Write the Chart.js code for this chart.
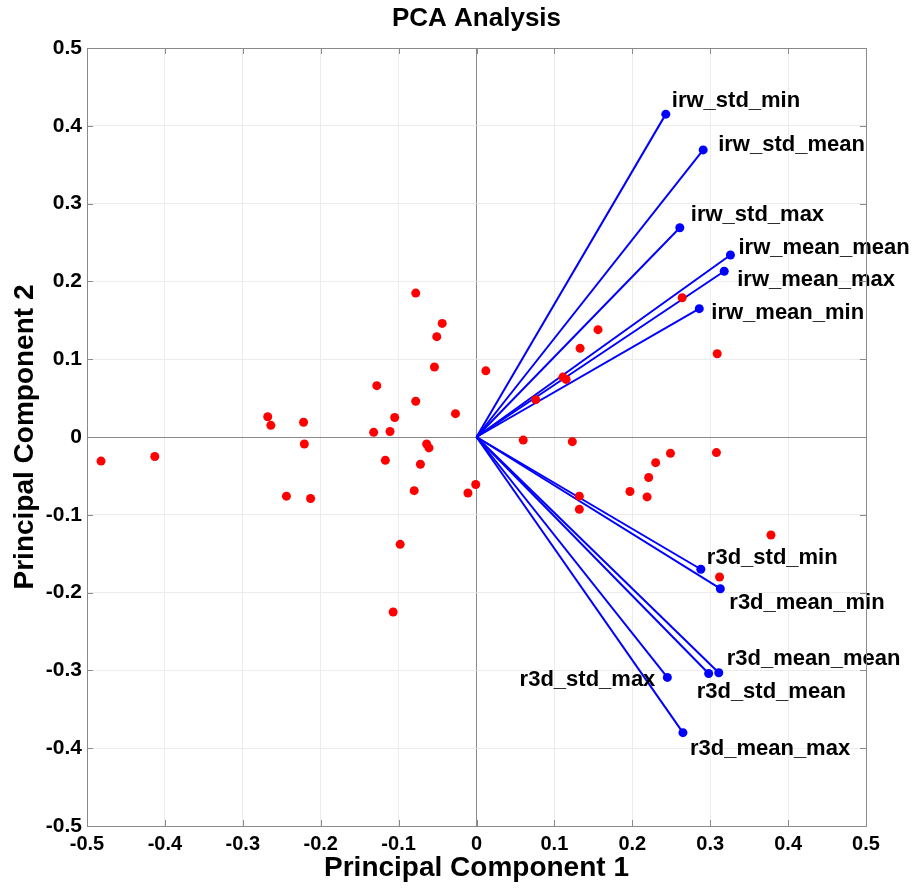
<!DOCTYPE html>
<html>
<head>
<meta charset="utf-8">
<title>PCA Analysis</title>
<script src="https://cdn.jsdelivr.net/npm/chart.js@4.4.1/dist/chart.umd.min.js"></script>
<style>
  html, body { margin: 0; padding: 0; background: #fff; }
</style>
</head>
<body>
<canvas id="pca" width="923" height="888"></canvas>
<script>
// PCA biplot: observation scores (red) and variable loadings (blue vectors)
const tickValues = [-0.5, -0.4, -0.3, -0.2, -0.1, 0, 0.1, 0.2, 0.3, 0.4, 0.5];

const scoreX = [
  -0.482, -0.413, -0.268, -0.264, -0.222, -0.221, -0.244, -0.213,
  -0.132, -0.128, -0.111, -0.105, -0.117, -0.078, -0.044, -0.051,
  -0.054, -0.078, -0.027, -0.064, -0.061, -0.072, -0.080, -0.098,
  -0.107, -0.011, -0.001, 0.012, 0.264, 0.156, 0.133, 0.309,
  0.111, 0.115, 0.076, 0.060, 0.123, 0.249, 0.308, 0.230,
  0.221, 0.197, 0.219, 0.132, 0.132, 0.378, 0.312
];
const scoreY = [
  -0.031, -0.025, 0.026, 0.015, 0.019, -0.009, -0.076, -0.079,
  0.006, 0.066, 0.007, 0.025, -0.030, 0.185, 0.146, 0.129,
  0.090, 0.046, 0.030, -0.009, -0.014, -0.035, -0.069, -0.138,
  -0.225, -0.072, -0.061, 0.085, 0.179, 0.138, 0.114, 0.107,
  0.077, 0.074, 0.048, -0.004, -0.006, -0.021, -0.020, -0.033,
  -0.052, -0.070, -0.077, -0.076, -0.093, -0.126, -0.180
];

const loadingNames = [
  'irw_std_min', 'irw_std_mean', 'irw_std_max', 'irw_mean_mean', 'irw_mean_max', 'irw_mean_min',
  'r3d_std_min', 'r3d_mean_min', 'r3d_std_mean', 'r3d_mean_mean', 'r3d_std_max', 'r3d_mean_max'
];
const loadingX = [0.243, 0.291, 0.261, 0.326, 0.318, 0.286, 0.288, 0.313, 0.298, 0.311, 0.245, 0.265];
const loadingY = [0.415, 0.369, 0.269, 0.234, 0.213, 0.165, -0.170, -0.195, -0.304, -0.303, -0.309, -0.380];

// label placement relative to each vector tip (pixels)
const labelOffsets = [
  [6, -13, 'left'], [15, -5, 'left'], [11, -13, 'left'], [8, -7, 'left'], [13, 9, 'left'], [12, 4, 'left'],
  [6, -11, 'left'], [9, 14, 'left'], [-12, 18, 'left'], [8, -14, 'left'], [-12, 3, 'right'], [7, 16, 'left']
];

const FONT = '"Liberation Sans", Arial, Helvetica, sans-serif';
const AXIS_GRAY = '#8a8a8a';

const vectorSets = loadingNames.map((name, i) => ({
  label: name,
  data: [{ x: 0, y: 0 }, { x: loadingX[i], y: loadingY[i] }],
  showLine: true,
  borderColor: '#0000ff',
  backgroundColor: '#0000ff',
  borderWidth: 2,
  pointRadius: [0, 4.5],
  pointHoverRadius: [0, 4.5],
  pointBorderWidth: 0,
  order: 1
}));

const biplotDecor = {
  id: 'biplotDecor',
  afterDatasetsDraw(chart) {
    const { ctx, scales: { x, y } } = chart;
    ctx.save();
    ctx.fillStyle = '#000';
    ctx.font = 'bold 22px ' + FONT;
    ctx.textBaseline = 'middle';
    loadingNames.forEach((name, i) => {
      const [dx, dy, align] = labelOffsets[i];
      ctx.textAlign = align;
      ctx.fillText(name, x.getPixelForValue(loadingX[i]) + dx, y.getPixelForValue(loadingY[i]) + dy);
    });
    ctx.restore();
  },
  afterDraw(chart) {
    const { ctx, chartArea: a, scales: { x, y } } = chart;
    ctx.save();
    // title centred over the plot box, not the whole canvas
    ctx.fillStyle = '#000';
    ctx.font = 'bold 26px ' + FONT;
    ctx.textAlign = 'center';
    ctx.textBaseline = 'middle';
    ctx.fillText('PCA Analysis', (a.left + a.right) / 2, 19);

    ctx.strokeStyle = AXIS_GRAY;
    ctx.lineWidth = 1;
    ctx.strokeRect(Math.round(a.left) + 0.5, Math.round(a.top) + 0.5,
      Math.round(a.right - a.left), Math.round(a.bottom - a.top));
    const len = 6;
    ctx.beginPath();
    tickValues.forEach(v => {
      const px = Math.round(x.getPixelForValue(v)) + 0.5;
      const py = Math.round(y.getPixelForValue(v)) + 0.5;
      ctx.moveTo(px, a.bottom); ctx.lineTo(px, a.bottom - len);
      ctx.moveTo(px, a.top); ctx.lineTo(px, a.top + len);
      ctx.moveTo(a.left, py); ctx.lineTo(a.left + len, py);
      ctx.moveTo(a.right, py); ctx.lineTo(a.right - len, py);
    });
    ctx.stroke();
    ctx.restore();
  }
};

const gridColor = c => (c.tick && c.tick.value === 0 ? AXIS_GRAY : '#ececec');
const fmt = v => String(Number(v.toFixed(1)));

new Chart(document.getElementById('pca'), {
  type: 'scatter',
  data: {
    datasets: [{
      label: 'scores',
      data: scoreX.map((v, i) => ({ x: v, y: scoreY[i] })),
      backgroundColor: '#ff0000',
      borderWidth: 0,
      pointRadius: 4.5,
      pointHoverRadius: 4.5,
      order: 0
    }, ...vectorSets]
  },
  options: {
    responsive: false,
    animation: false,
    events: [],
    layout: { padding: { top: 48, right: 57, bottom: 0, left: 0 } },
    plugins: {
      legend: { display: false },
      tooltip: { enabled: false },
      title: { display: false }
    },
    scales: {
      x: {
        type: 'linear',
        min: -0.5, max: 0.5,
        afterBuildTicks: s => { s.ticks = tickValues.map(v => ({ value: v })); },
        afterFit: s => { s.height = 62; },
        grid: { color: gridColor, drawTicks: false, lineWidth: 1 },
        border: { display: false },
        ticks: {
          color: '#000', padding: 6, maxRotation: 0, autoSkip: false,
          font: { family: FONT, size: 20, weight: 'bold' },
          callback: fmt
        },
        title: {
          display: true, text: 'Principal Component 1', color: '#000',
          font: { family: FONT, size: 28, weight: 'bold', lineHeight: 1.2 },
          padding: { top: 0, bottom: 3 }
        }
      },
      y: {
        type: 'linear',
        min: -0.5, max: 0.5,
        afterBuildTicks: s => { s.ticks = tickValues.map(v => ({ value: v })); },
        afterFit: s => { s.width = 87; },
        grid: { color: gridColor, drawTicks: false, lineWidth: 1 },
        border: { display: false },
        ticks: {
          color: '#000', padding: 5, autoSkip: false,
          font: { family: FONT, size: 21, weight: 'bold' },
          callback: fmt
        },
        title: {
          display: true, text: 'Principal Component 2', color: '#000',
          font: { family: FONT, size: 28, weight: 'bold', lineHeight: 1.2 },
          padding: { top: 8, bottom: 0 }
        }
      }
    }
  },
  plugins: [biplotDecor]
});
</script>
</body>
</html>
